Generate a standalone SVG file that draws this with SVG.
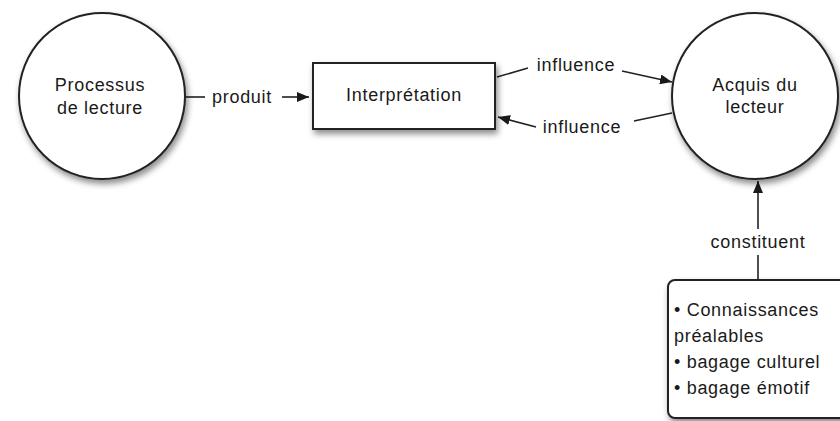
<svg xmlns="http://www.w3.org/2000/svg" width="840" height="421" viewBox="0 0 840 421">
<defs>
<filter id="sh" x="-20%" y="-20%" width="150%" height="150%">
<feDropShadow dx="2" dy="4" stdDeviation="3" flood-color="#000" flood-opacity="0.45"/>
</filter>
<marker id="ah" viewBox="0 0 12 10" refX="12" refY="5" markerWidth="12" markerHeight="10" markerUnits="userSpaceOnUse" orient="auto">
<path d="M0,0 L12,5 L0,10 Z" fill="#1a1a1a"/>
</marker>
<style>
.shape{fill:#fff;stroke:#222;stroke-width:2;filter:url(#sh)}
.t{font-family:"Liberation Sans",Arial,sans-serif;font-size:18px;letter-spacing:0.7px;fill:#1a1a1a}
.m{text-anchor:middle}
.c{fill:none;stroke:#222;stroke-width:1.6}
</style>
</defs>
<rect width="840" height="421" fill="#fff"/>
<g id="connectors">
<line class="c" x1="185" y1="97" x2="205" y2="97"/>
<text class="t m" x="242" y="103">produit</text>
<line class="c" x1="282" y1="97" x2="309" y2="97" marker-end="url(#ah)"/>
<line class="c" x1="497" y1="77" x2="528" y2="68"/>
<text class="t m" x="576" y="71">influence</text>
<line class="c" x1="622" y1="71" x2="672" y2="82" marker-end="url(#ah)"/>
<line class="c" x1="672" y1="113" x2="634" y2="121"/>
<text class="t m" x="582" y="133">influence</text>
<line class="c" x1="536" y1="127" x2="498" y2="117" marker-end="url(#ah)"/>
<line class="c" x1="758" y1="280" x2="758" y2="255"/>
<text class="t m" x="758" y="248">constituent</text>
<line class="c" x1="758" y1="229" x2="758" y2="181" marker-end="url(#ah)"/>
</g>
<g id="processus">
<circle class="shape" cx="102" cy="96" r="83"/>
<text class="t m" x="100" y="91">Processus</text>
<text class="t m" x="100" y="114">de lecture</text>
</g>
<g id="interpretation">
<rect class="shape" x="313" y="63" width="182" height="66"/>
<text class="t m" x="404" y="101">Interprétation</text>
</g>
<g id="acquis">
<circle class="shape" cx="755" cy="96" r="83"/>
<text class="t m" x="755" y="91">Acquis du</text>
<text class="t m" x="755" y="113">lecteur</text>
</g>
<g id="constituants">
<rect class="shape" x="668" y="280" width="180" height="138" rx="7"/>
<text class="t" x="674" y="316">• Connaissances</text>
<text class="t" x="674" y="342">préalables</text>
<text class="t" x="674" y="368">• bagage culturel</text>
<text class="t" x="674" y="394">• bagage émotif</text>
</g>
</svg>
